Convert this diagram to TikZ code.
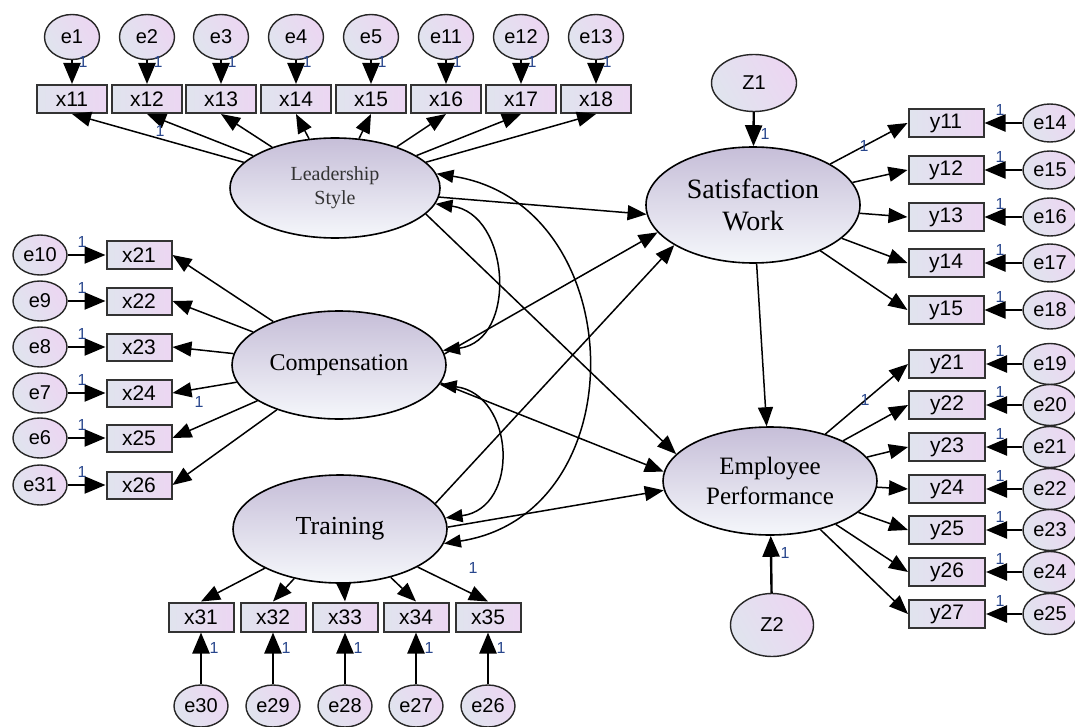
\documentclass[tikz,border=0pt]{standalone}
\usepackage{fontspec}
\setmainfont{Liberation Serif}
\newfontfamily\arialf{Liberation Sans}
\usetikzlibrary{arrows.meta,shapes.geometric}
\definecolor{boxL}{RGB}{224,228,238}
\definecolor{boxR}{RGB}{236,214,242}
\definecolor{latT}{RGB}{198,190,216}
\definecolor{latB}{RGB}{245,247,251}
\definecolor{onec}{RGB}{40,70,140}
\begin{document}
\begin{tikzpicture}[x=1pt,y=-1pt,
  obs/.style={draw=black!80, line width=2pt, left color=boxL, right color=boxR,
    minimum height=28pt, inner sep=0pt, font=\arialf\fontsize{21}{21}\selectfont},
  err/.style={ellipse, draw=black!85, line width=1.4pt, left color=boxL, right color=boxR,
    shading angle=120, minimum width=54pt, minimum height=42pt, inner sep=0pt,
    font=\arialf\fontsize{20}{20}\selectfont},
  lat/.style={ellipse, draw, line width=1.6pt, top color=latT, bottom color=latB,
    inner sep=0pt, align=center, minimum width=214pt, minimum height=108pt},
  reg/.style={-{Triangle[length=19pt,width=15pt]}, line width=1.5pt},
  ereg/.style={-{Triangle[length=21pt,width=17pt]}, line width=2.4pt},
  cov/.style={{Triangle[length=17pt,width=13pt]}-{Triangle[length=17pt,width=13pt]}, line width=1.5pt},
  one/.style={font=\arialf\fontsize{16}{16}\selectfont, text=onec, inner sep=0pt},
]
\useasboundingbox (0,0) rectangle (1075,727);

% latent variables
\node[lat, minimum width=210pt, minimum height=100pt, text=black!80,
  font=\fontsize{20}{24}\selectfont] (LS) at (335,188) {Leadership\\Style};
\node[lat, font=\fontsize{24}{28}\selectfont] (Comp) at (339,365) {Compensation};
\node[lat, font=\fontsize{26}{30}\selectfont] (Tr) at (340,529) {Training};
\node[lat, minimum height=116pt, font=\fontsize{28}{32}\selectfont] (SW) at (753,205) {Satisfaction\\Work};
\node[lat, font=\fontsize{25}{30}\selectfont] (EP) at (770,481) {Employee\\Performance};

% disturbances
\node[err, minimum width=85pt, minimum height=57pt] (Z1) at (754,83) {Z1};
\node[err, minimum width=83pt, minimum height=63pt] (Z2) at (772,625) {Z2};
\draw[ereg] (Z1) -- (SW);
\draw[ereg] (Z2) -- (EP);
\node[one] at (765,134) {1};
\node[one] at (785,553) {1};

% Leadership indicators
\foreach \xp/\n/\e in {72/11/1,147/12/2,221/13/3,296/14/4,371/15/5,446/16/11,521/17/12,596/18/13}{
  \node[obs, minimum width=70pt] (x\n) at (\xp,99) {x\n};
  \node[err, minimum width=55pt, minimum height=45pt] (e\e) at (\xp,37) {e\e};
  \draw[ereg] (e\e) -- (x\n);
  \node[one] at (\xp+11,62) {1};
  \draw[reg] (LS) -- (x\n.south);
}
\node[one] at (160,131) {1};

% Compensation indicators
\foreach \yp/\n/\e in {255/21/10,301/22/9,347/23/8,393/24/7,438/25/6,485/26/31}{
  \node[obs, minimum width=65pt, minimum height=27pt] (x\n) at (139,\yp) {x\n};
  \node[err, minimum height=40pt] (e\e) at (40,\yp) {e\e};
  \draw[ereg] (e\e) -- (x\n);
  \node[one] at (82,\yp-13) {1};
  \draw[reg] (Comp) -- (x\n.east);
}
\node[one] at (199,402) {1};

% Training indicators
\foreach \xp/\n/\e in {201/31/30,273/32/29,345/33/28,416/34/27,488/35/26}{
  \node[obs, minimum width=65pt, minimum height=29pt] (x\n) at (\xp,617) {x\n};
  \node[err] (e\e) at (\xp,706) {e\e};
  \draw[ereg] (e\e) -- (x\n);
  \node[one] at (\xp+13,648) {1};
  \draw[reg] (Tr) -- (x\n.north);
}
\node[one] at (473,568) {1};

% Satisfaction indicators
\foreach \yp/\n/\e in {123/11/14,170/12/15,217/13/16,263/14/17,310/15/18}{
  \node[obs, minimum width=75pt] (y\n) at (946,\yp) {y\n};
  \node[err, minimum height=38pt] (e\e) at (1050,\yp) {e\e};
  \draw[ereg] (e\e) -- (y\n);
  \node[one] at (1000,\yp-13) {1};
  \draw[reg] (SW) -- (y\n.west);
}
\node[one] at (864,146) {1};

% Performance indicators
\foreach \yp/\n/\e in {364/21/19,405/22/20,447/23/21,489/24/22,530/25/23,572/26/24,614/27/25}{
  \node[obs, minimum width=76pt] (y\n) at (947,\yp) {y\n};
  \node[err, minimum height=41pt] (e\e) at (1050,\yp) {e\e};
  \draw[ereg] (e\e) -- (y\n);
  \node[one] at (1000,\yp-13) {1};
  \draw[reg] (EP) -- (y\n.west);
}
\node[one] at (865,400) {1};

% structural paths
\draw[reg] (LS.355) -- (SW.185);
\draw[reg] (LS.344) -- (EP.164);
\draw[reg] (Comp.6) -- (SW.196);
\draw[reg] (Comp.350) -- (EP.175);
\draw[reg] (Tr.15) -- (SW.207);
\draw[reg] (Tr.1) -- (EP.185);
\draw[reg] (SW) -- (EP);

% covariances
\draw[cov] (LS.351) .. controls +(75,10) and +(75,-10) .. (Comp.8);
\draw[cov] (Comp.349) .. controls +(75,10) and +(75,-10) .. (Tr.6);
\draw[cov] (LS.8) .. controls +(195,30) and +(195,-30) .. (Tr.352);
\end{tikzpicture}
\end{document}
